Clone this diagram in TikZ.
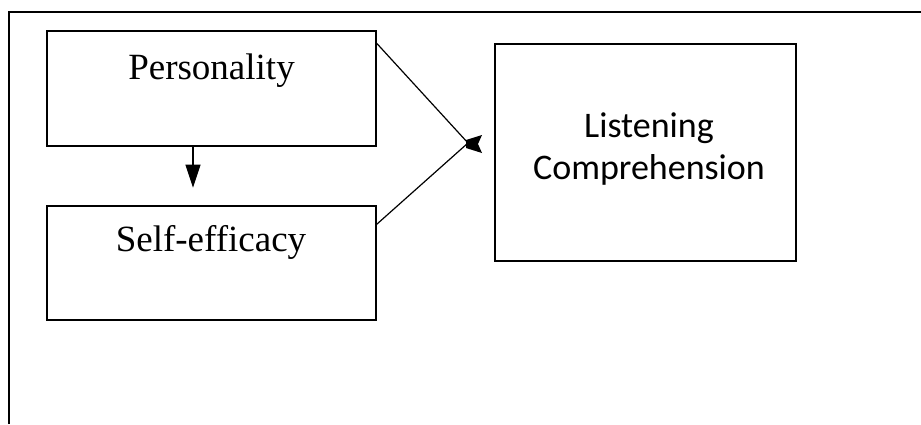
\documentclass[tikz,border=0pt]{standalone}
\usepackage{fontspec}
\setmainfont{Liberation Serif}
\newfontfamily\calib{Carlito}
\usetikzlibrary{arrows.meta,calc}
\begin{document}
\begin{tikzpicture}[x=1pt,y=1pt,
  boxnode/.style={draw,line width=1.4pt,inner sep=0pt},
  serif/.style={font=\fontsize{37}{44}\selectfont,inner sep=0pt},
  conn/.style={line width=1.2pt}]
\useasboundingbox (0,0) rectangle (921,-424);
\fill[white] (0,0) rectangle (921,-424);
% outer frame (cut off at right and bottom)
\draw[line width=2pt] (9,-424) -- (9,-12) -- (921,-12);
% boxes
\node[boxnode,minimum width=329pt,minimum height=115pt] (p) at (211.5,-88.5) {};
\node[boxnode,minimum width=329pt,minimum height=114pt] (s) at (211.5,-263) {};
\node[boxnode,minimum width=301pt,minimum height=217pt] (l) at (645.5,-152.5) {};
% texts
\node[serif] (pt) at (211.5,-71) {Personality};
\node[serif] (st) at (211,-242) {Self-efficacy};
\node[font=\calib\fontsize{36}{42}\selectfont,align=center,inner sep=0pt] (lt) at (649,-149) {Listening\\Comprehension};
% connectors
\coordinate (tip) at (468,-143);
\draw[conn] ($(p.north east)+(0,-13)$) -- (tip);
\draw[conn] ($(s.north east)+(0,-19)$) -- (tip);
\fill ([shift={(-2,3)}]tip) -- ++(16,5) -- ++(-4,-9) -- ++(4,-9) -- ++(-16,5) -- cycle;
\draw[conn,-{Triangle[length=23pt,width=15pt]}] ([xshift=-18.5pt]p.south) -- ++(0,-41);
\end{tikzpicture}
\end{document}
